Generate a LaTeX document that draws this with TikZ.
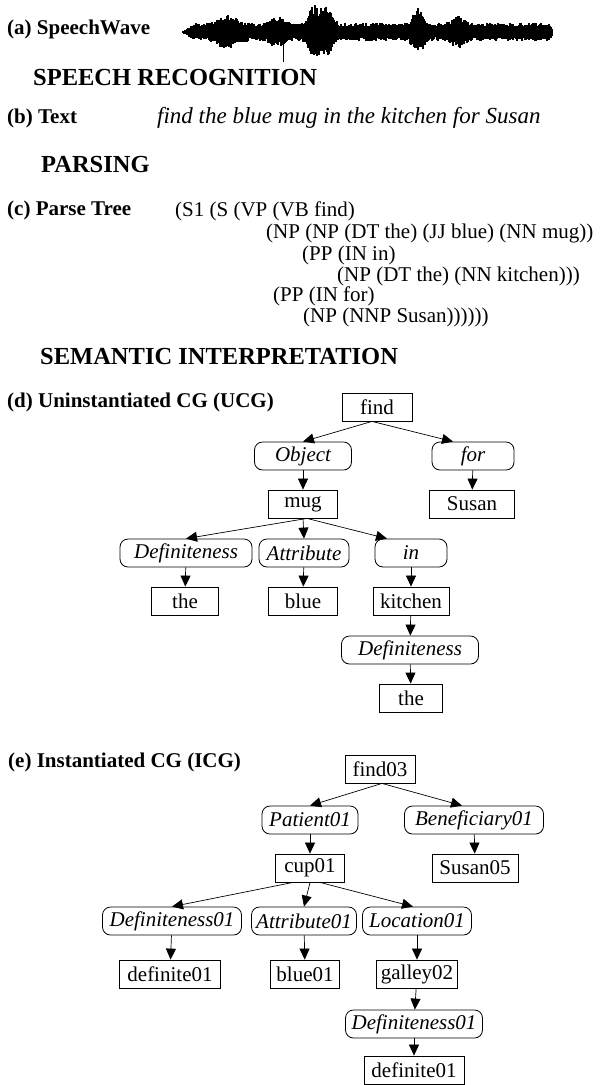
\documentclass[tikz,border=0pt]{standalone}
\usepackage{fontspec}
\setmainfont{Liberation Serif}
\usetikzlibrary{arrows.meta}

\begin{document}
\begin{tikzpicture}[x=1pt,y=-1pt,
  every node/.style={font=\fontsize{21}{23}\selectfont},
  lbl/.style={anchor=west,inner sep=0pt,font=\fontsize{21}{23}\selectfont\bfseries},
  head/.style={anchor=west,inner sep=0pt,font=\fontsize{24.5}{27}\selectfont\bfseries},
  parse/.style={anchor=west,inner sep=0pt},
  concept/.style={draw,line width=0.8pt,rectangle,minimum height=28pt,inner sep=2pt},
  relation/.style={draw,line width=0.8pt,rounded corners=8pt,minimum height=28pt,inner sep=2pt,
    font=\fontsize{21}{23}\selectfont\itshape},
  link/.style={-{Triangle[length=11pt,width=10pt]},line width=0.7pt},
  declare function={g(\x,\c,\w)=exp(-min(((\x-\c)/\w)^2,15));}
]
\useasboundingbox (0,0) rectangle (603,1085);

% (a) the speech wave
\node[lbl] (lwave) at (7,29) {(a) SpeechWave};
\pgfmathsetseed{11}
\foreach \i in {183,...,552}{
  \pgfmathsetmacro\env{(9+9*g(\i,227,12)+7*g(\i,277,9)+18*g(\i,314,7)+17*g(\i,327,7)+17*g(\i,418,6)+8*g(\i,458,8))*min(1,(\i-181)/14)*min(1,(554-\i)/4)}
  \pgfmathsetmacro\up{\env*(0.6+0.4*rnd)}
  \pgfmathsetmacro\dn{\env*(0.6+0.4*rnd)}
  \draw[line width=1.1pt] (\i,32-\up) -- (\i,32+\dn);
}
\draw[line width=1pt] (283,32) -- (283,62);

\node[head] (hrec) at (33,78) {SPEECH RECOGNITION};

% (b) text
\node[lbl] (ltext) at (7,118) {(b) Text};
\node[parse,font=\fontsize{23}{25}\selectfont\itshape] (sent) at (157,118) {find the blue mug in the kitchen for Susan};

\node[head] (hparse) at (41,165) {PARSING};

% (c) parse tree
\node[lbl] (lparse) at (7,210) {(c) Parse Tree};
\node[parse] (p1) at (175,211) {(S1 (S (VP (VB find)};
\node[parse] (p2) at (266,233) {(NP (NP (DT the) (JJ blue) (NN mug))};
\node[parse] (p3) at (302,255) {(PP (IN in)};
\node[parse] (p4) at (337,276) {(NP (DT the) (NN kitchen)))};
\node[parse] (p5) at (273,296) {(PP (IN for)};
\node[parse] (p6) at (303,317) {(NP (NNP Susan))))))};

\node[head] (hsem) at (40,357) {SEMANTIC INTERPRETATION};

% (d) uninstantiated CG
\node[lbl] (lucg) at (7,402) {(d) Uninstantiated CG (UCG)};
\node[concept,minimum width=70pt] (find) at (377,407) {find};
\node[relation,minimum width=97pt] (obj) at (303,456) {Object};
\node[relation,minimum width=82pt] (for) at (473,456) {for};
\node[concept,minimum width=69pt] (mug) at (303,504) {mug};
\node[concept,minimum width=85pt] (susan) at (472,504) {Susan};
\node[relation,minimum width=132pt] (defa) at (186,553) {Definiteness};
\node[relation,minimum width=90pt] (attr) at (304,553) {Attribute};
\node[relation,minimum width=72pt] (in) at (411,553) {in};
\node[concept,minimum width=67pt] (thea) at (185,601) {the};
\node[concept,minimum width=69pt] (blue) at (303,601) {blue};
\node[concept,minimum width=76pt] (kitchen) at (411,601) {kitchen};
\node[relation,minimum width=137pt] (defb) at (410,650) {Definiteness};
\node[concept,minimum width=63pt] (theb) at (411,698) {the};

\draw[link] ([xshift=-5pt]find.south) -- (obj.north);
\draw[link] ([xshift=-5pt]find.south) -- ([xshift=-20pt]for.north);
\draw[link] (obj) -- (mug);
\draw[link] (for) -- (susan);
\draw[link] ([xshift=4pt]mug.south) -- (defa.north);
\draw[link] (mug.south) -- (attr.north);
\draw[link] ([xshift=4pt]mug.south) -- ([xshift=-24pt]in.north);
\draw[link] (defa) -- (thea);
\draw[link] (attr) -- (blue);
\draw[link] (in) -- (kitchen);
\draw[link] (kitchen) -- (defb);
\draw[link] (defb) -- (theb);

% (e) instantiated CG
\node[lbl] (licg) at (8,762) {(e) Instantiated CG (ICG)};
\node[concept,minimum width=70pt] (find03) at (380,769) {find03};
\node[relation,minimum width=96pt] (patient) at (310,820) {Patient01};
\node[relation,minimum width=139pt] (benef) at (474,820) {Beneficiary01};
\node[concept,minimum width=69pt] (cup) at (310,868) {cup01};
\node[concept,minimum width=86pt] (susan05) at (475,868) {Susan05};
\node[relation,minimum width=139pt] (defc) at (172,921) {Definiteness01};
\node[relation,minimum width=105pt] (attr01) at (304,921) {Attribute01};
\node[relation,minimum width=109pt] (loc) at (417,921) {Location01};
\node[concept,minimum width=101pt] (defia) at (170,974) {definite01};
\node[concept,minimum width=69pt] (blue01) at (305,974) {blue01};
\node[concept,minimum width=81pt] (galley) at (417,974) {galley02};
\node[relation,minimum width=137pt] (defd) at (414,1024) {Definiteness01};
\node[concept,minimum width=100pt] (defib) at (414,1070) {definite01};

\draw[link] ([xshift=2pt]find03.south) -- (patient.north);
\draw[link] ([xshift=2pt]find03.south) -- ([xshift=-12pt]benef.north);
\draw[link] (patient) -- (cup);
\draw[link] (benef) -- (susan05);
\draw[link] ([xshift=-17pt]cup.south) -- (defc.north);
\draw[link] (cup.south) -- (attr01.north);
\draw[link] ([xshift=10pt]cup.south) -- ([xshift=-4pt]loc.north);
\draw[link] (defc) -- (defia);
\draw[link] (attr01) -- (blue01);
\draw[link] (loc) -- (galley);
\draw[link] (galley) -- (defd);
\draw[link] (defd) -- (defib);
\end{tikzpicture}
\end{document}
